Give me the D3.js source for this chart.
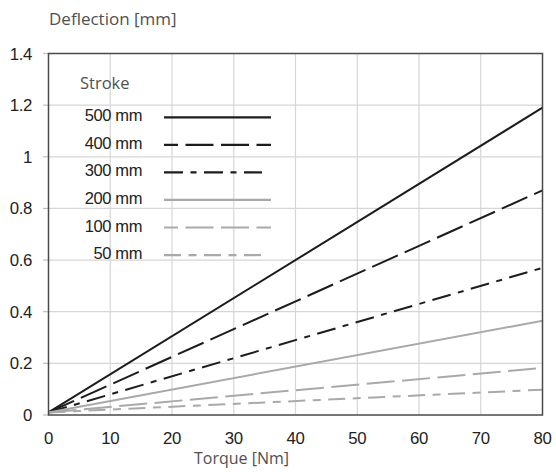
<!DOCTYPE html>
<html>
<head>
<meta charset="utf-8">
<script src="https://cdn.jsdelivr.net/npm/d3@7"></script>
<style>
  html, body { margin: 0; padding: 0; background: #fff; }
  svg { display: block; }
</style>
</head>
<body>
<svg id="chart" width="556" height="472"></svg>
<script>
// ---- data ----
const torque = [0, 80];                       // Nm
const strokes = ["500 mm", "400 mm", "300 mm", "200 mm", "100 mm", "50 mm"];
const deflection500 = [0.01, 1.19];
const deflection400 = [0.01, 0.87];
const deflection300 = [0.01, 0.57];
const deflection200 = [0.01, 0.365];
const deflection100 = [0.01, 0.182];
const deflection50  = [0.01, 0.098];
const xTicks = [0, 10, 20, 30, 40, 50, 60, 70, 80];
const yTicks = [0, 0.2, 0.4, 0.6, 0.8, 1, 1.2, 1.4];
const yTickLabels = ["0", "0.2", "0.4", "0.6", "0.8", "1", "1.2", "1.4"];

const seriesValues = [deflection500, deflection400, deflection300, deflection200, deflection100, deflection50];
const BLACK = "#1c1c1c", GRAY = "#a9a9a9";
const styles = [
  { color: BLACK, dash: null },
  { color: BLACK, dash: "28,7.5" },
  { color: BLACK, dash: "19,7.5,6,7.5" },
  { color: GRAY,  dash: null },
  { color: GRAY,  dash: "28,7.5" },
  { color: GRAY,  dash: "17,7.5,8,7.5" }
];

const svg = d3.select("#chart");
const x = d3.scaleLinear().domain([0, 80]).range([48.5, 542.5]);
const y = d3.scaleLinear().domain([0, 1.4]).range([415, 53.5]);

const numFont = "'Liberation Sans', Arial, sans-serif";
const txtFont = "'Open Sans', 'Noto Sans', sans-serif";
const numSize = 16.8;

// grid
svg.append("g").selectAll("line.v").data(xTicks.slice(1, -1)).join("line")
  .attr("x1", d => x(d)).attr("x2", d => x(d))
  .attr("y1", y(1.4)).attr("y2", y(0))
  .attr("stroke", "#d6d6d6").attr("stroke-width", 1.2);
svg.append("g").selectAll("line.h").data(yTicks.slice(1, -1)).join("line")
  .attr("x1", x(0)).attr("x2", x(80))
  .attr("y1", d => y(d)).attr("y2", d => y(d))
  .attr("stroke", "#d6d6d6").attr("stroke-width", 1.2);

// y ticks (short, left of axis)
svg.append("g").selectAll("line").data(yTicks).join("line")
  .attr("x1", x(0) - 5.5).attr("x2", x(0))
  .attr("y1", d => y(d)).attr("y2", d => y(d))
  .attr("stroke", "#bdbdbd").attr("stroke-width", 1.2);

// y tick labels
svg.append("g").selectAll("text").data(yTicks).join("text")
  .attr("x", 32).attr("y", d => y(d) + 6)
  .attr("text-anchor", "end")
  .attr("font-family", numFont).attr("font-size", numSize).attr("letter-spacing", -0.4)
  .attr("fill", "#222")
  .text((d, i) => yTickLabels[i]);

// x tick labels
svg.append("g").selectAll("text").data(xTicks).join("text")
  .attr("x", d => x(d)).attr("y", 443.5)
  .attr("text-anchor", "middle")
  .attr("font-family", numFont).attr("font-size", numSize).attr("letter-spacing", -0.4)
  .attr("fill", "#222")
  .text(d => d);

// series lines
const line = d3.line().x((d, i) => x(torque[i])).y(d => y(d));
svg.append("g").selectAll("path").data(seriesValues).join("path")
  .attr("d", d => line(d))
  .attr("fill", "none")
  .attr("stroke", (d, i) => styles[i].color)
  .attr("stroke-width", 2)
  .attr("stroke-dasharray", (d, i) => styles[i].dash);

// frame
svg.append("rect")
  .attr("x", x(0)).attr("y", y(1.4))
  .attr("width", x(80) - x(0)).attr("height", y(0) - y(1.4))
  .attr("fill", "none").attr("stroke", "#4a4a4a").attr("stroke-width", 1.5);

// axis titles
svg.append("text").attr("x", 49).attr("y", 25)
  .attr("font-family", txtFont).attr("font-size", 17).attr("fill", "#505050")
  .text("Deflection [mm]");
svg.append("text").attr("x", 289).attr("y", 464).attr("text-anchor", "end")
  .attr("font-family", txtFont).attr("font-size", 16).attr("fill", "#505050")
  .text("Torque [Nm]");

// legend
const lg = svg.append("g");
lg.append("text").attr("x", 80).attr("y", 89)
  .attr("font-family", txtFont).attr("font-size", 16.5).attr("fill", "#505050")
  .text("Stroke");
const rowY = i => 117.3 + i * 27.55;
lg.selectAll("text.lab").data(strokes).join("text")
  .attr("class", "lab")
  .attr("x", 142).attr("y", (d, i) => rowY(i) + 4)
  .attr("text-anchor", "end")
  .attr("font-family", numFont).attr("font-size", 16.5).attr("letter-spacing", -0.4)
  .attr("fill", "#222")
  .text(d => d);
lg.selectAll("line.key").data(strokes).join("line")
  .attr("class", "key")
  .attr("x1", 164).attr("x2", (d, i) => (i === 2 || i === 5) ? 262 : 271)
  .attr("y1", (d, i) => rowY(i)).attr("y2", (d, i) => rowY(i))
  .attr("stroke", (d, i) => styles[i].color)
  .attr("stroke-width", 2.2)
  .attr("stroke-dasharray", (d, i) => styles[i].dash)
  .attr("stroke-dashoffset", (d, i) => (i === 1 || i === 4) ? 14 : 0);
</script>
</body>
</html>
